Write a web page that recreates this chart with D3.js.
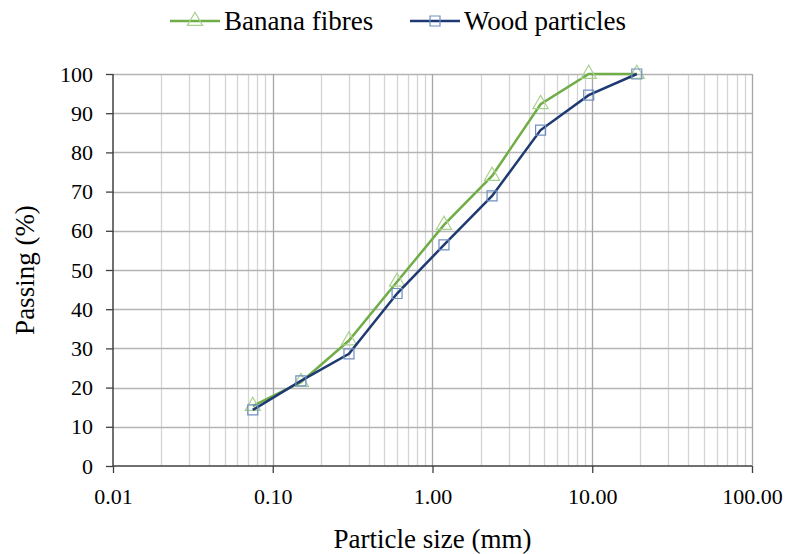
<!DOCTYPE html>
<html>
<head>
<meta charset="utf-8">
<script src="https://cdn.jsdelivr.net/npm/d3@7"></script>
<style>
body { margin: 0; background: #fff; }
svg { font-family: "Liberation Serif", "DejaVu Serif", serif; }
</style>
</head>
<body>
<div id="plot"></div>
<script>
// sieve sizes (mm) and passing percentages
var sizes = [0.075, 0.15, 0.3, 0.6, 1.18, 2.36, 4.75, 9.5, 19];
var banana = [15.3, 21.4, 32, 47, 61.5, 74, 92.3, 100, 100];
var wood = [14.3, 21.7, 28.6, 44, 56.4, 68.9, 85.7, 94.6, 100];
var x_ticks = [0.01, 0.1, 1, 10, 100];
var x_tick_labels = ["0.01", "0.10", "1.00", "10.00", "100.00"];
var y_ticks = [0, 10, 20, 30, 40, 50, 60, 70, 80, 90, 100];

var w = 785, h = 554;
var m_left = 113, m_right = 752, m_top = 74, m_bottom = 466;

var svg = d3.select("div#plot")
    .append("svg")
        .attr("width", w)
        .attr("height", h);

var x_scale = d3.scaleLog().domain([0.01, 100]).range([m_left, m_right]);
var y_scale = d3.scaleLinear().domain([0, 100]).range([m_bottom, m_top]);

// minor vertical grid (2..9 in every decade)
var minor = [];
x_ticks.slice(0, -1).forEach(function(d) {
    for (var k = 2; k <= 9; k++) minor.push(d * k);
});
svg.append("g")
    .selectAll("line")
    .data(minor)
    .join("line")
        .attr("x1", function(d) { return Math.round(x_scale(d)) + 0.5; })
        .attr("x2", function(d) { return Math.round(x_scale(d)) + 0.5; })
        .attr("y1", m_top)
        .attr("y2", m_bottom)
        .attr("stroke", "#d4d4d4")
        .attr("stroke-width", 1.3);

// horizontal grid
svg.append("g")
    .selectAll("line")
    .data(y_ticks.slice(1))
    .join("line")
        .attr("x1", m_left)
        .attr("x2", m_right)
        .attr("y1", function(d) { return Math.round(y_scale(d)) + 0.5; })
        .attr("y2", function(d) { return Math.round(y_scale(d)) + 0.5; })
        .attr("stroke", "#b4b4b4")
        .attr("stroke-width", 1.3);

// major vertical grid
svg.append("g")
    .selectAll("line")
    .data(x_ticks.slice(1))
    .join("line")
        .attr("x1", function(d) { return Math.round(x_scale(d)) + 0.5; })
        .attr("x2", function(d) { return Math.round(x_scale(d)) + 0.5; })
        .attr("y1", m_top)
        .attr("y2", m_bottom)
        .attr("stroke", "#a6a6a6")
        .attr("stroke-width", 1.3);

// axes
var x_axis = d3.axisBottom(x_scale)
    .tickValues(x_ticks)
    .tickFormat(function(d, i) { return x_tick_labels[i]; })
    .tickSize(7)
    .tickPadding(15);
var g_x = svg.append("g")
    .attr("transform", "translate(0," + m_bottom + ")")
    .call(x_axis);

var y_axis = d3.axisLeft(y_scale)
    .tickValues(y_ticks)
    .tickSize(7)
    .tickPadding(13);
var g_y = svg.append("g")
    .attr("transform", "translate(" + m_left + ",0)")
    .call(y_axis);

[g_x, g_y].forEach(function(g) {
    g.select(".domain").attr("stroke", "#404040").attr("stroke-width", 1.5);
    g.selectAll(".tick line").attr("stroke", "#404040").attr("stroke-width", 1.3);
    g.selectAll("text")
        .attr("font-family", "Liberation Serif, DejaVu Serif, serif")
        .attr("font-size", 22)
        .attr("fill", "#000");
});
g_x.select(".domain").attr("d", "M" + m_left + ",0H" + m_right);
g_y.select(".domain").attr("d", "M0," + m_bottom + "V" + m_top);

// axis titles
svg.append("text")
    .attr("x", (m_left + m_right) / 2)
    .attr("y", 548)
    .attr("text-anchor", "middle")
    .attr("font-size", 27)
    .text("Particle size (mm)");
svg.append("text")
    .attr("transform", "translate(34," + ((m_top + m_bottom) / 2) + ") rotate(-90)")
    .attr("text-anchor", "middle")
    .attr("font-size", 27)
    .text("Passing (%)");

// series
var series = [
    {name: "Banana fibres", values: banana, line: "#70ad47", marker: "#a9d18e", symbol: d3.symbolTriangle},
    {name: "Wood particles", values: wood, line: "#1f3a73", marker: "#6f8fc0", symbol: d3.symbolSquare}
];

var line = d3.line()
    .x(function(d) { return x_scale(d[0]); })
    .y(function(d) { return y_scale(d[1]); });

series.forEach(function(s) {
    var pts = sizes.map(function(d, i) { return [d, s.values[i]]; });
    svg.append("path")
        .datum(pts)
        .attr("d", line)
        .attr("fill", "none")
        .attr("stroke", s.line)
        .attr("stroke-width", 2.5);
    svg.append("g")
        .selectAll("path")
        .data(pts)
        .join("path")
            .attr("transform", function(d) {
                return "translate(" + x_scale(d[0]) + "," + y_scale(d[1]) + ")";
            })
            .attr("d", d3.symbol().type(s.symbol).size(100))
            .attr("fill", "none")
            .attr("stroke", s.marker)
            .attr("stroke-width", 1.2);
});

// legend
var legend_x = [170, 410];
series.forEach(function(s, i) {
    var g = svg.append("g").attr("transform", "translate(" + legend_x[i] + ",21)");
    g.append("line")
        .attr("x1", 0).attr("x2", 50)
        .attr("stroke", s.line)
        .attr("stroke-width", 2.5);
    g.append("path")
        .attr("transform", "translate(25,0)")
        .attr("d", d3.symbol().type(s.symbol).size(100))
        .attr("fill", "none")
        .attr("stroke", s.marker)
        .attr("stroke-width", 1.2);
    g.append("text")
        .attr("x", 54)
        .attr("y", 9)
        .attr("font-size", 27)
        .text(s.name);
});
</script>
</body>
</html>
